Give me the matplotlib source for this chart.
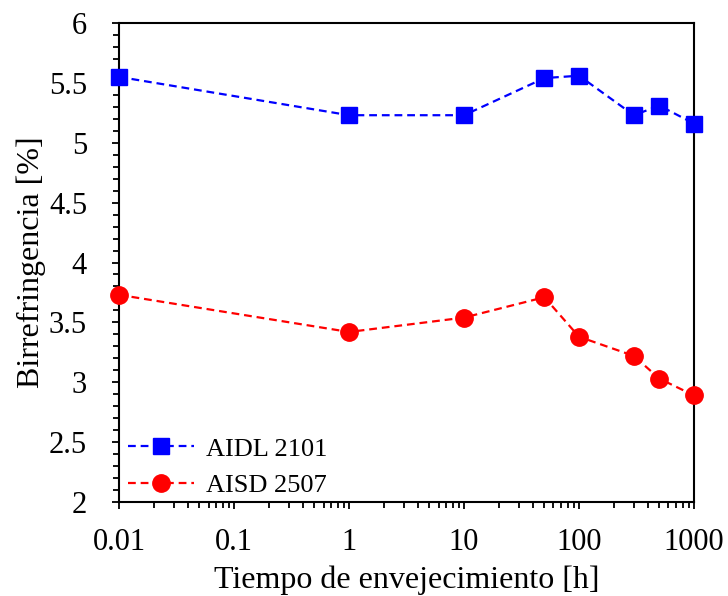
import matplotlib
matplotlib.use("Agg")
import matplotlib.pyplot as plt
from matplotlib.ticker import FixedLocator, MultipleLocator, LogLocator, NullFormatter

plt.rcParams['font.family'] = ['Liberation Serif', 'DejaVu Serif']
plt.rcParams['mathtext.fontset'] = 'stix'

time_h = [0.01, 1, 10, 50, 100, 300, 500, 1000]
aidl_2101 = [5.55, 5.23, 5.23, 5.54, 5.56, 5.23, 5.31, 5.16]
aisd_2507 = [3.73, 3.42, 3.54, 3.71, 3.38, 3.22, 3.03, 2.89]
x_ticks = [0.01, 0.1, 1, 10, 100, 1000]
x_tick_labels = ["0.01", "0.1", "1", "10", "100", "1000"]
y_ticks = [2, 2.5, 3, 3.5, 4, 4.5, 5, 5.5, 6]
y_tick_labels = ["2", "2.5", "3", "3.5", "4", "4.5", "5", "5.5", "6"]

fig = plt.figure(figsize=(7.28, 5.96), dpi=100)
ax = fig.add_axes([0.1635, 0.1577, 0.7898, 0.8037])

ax.plot(time_h, aidl_2101, color='#0000FF', linestyle=(0, (3.5, 2.2)), linewidth=1.6,
        marker='s', markersize=11.5, label='AIDL 2101', clip_on=False, zorder=3)
ax.plot(time_h, aisd_2507, color='#FF0000', linestyle=(0, (3.5, 2.2)), linewidth=1.6,
        marker='o', markersize=12.5, label='AISD 2507', clip_on=False, zorder=3)

ax.set_xscale('log')
ax.set_xlim(0.01, 1000)
ax.set_ylim(2, 6)
ax.xaxis.set_major_locator(FixedLocator(x_ticks))
ax.set_xticklabels(x_tick_labels)
ax.xaxis.set_minor_locator(LogLocator(base=10, subs=range(2, 10)))
ax.xaxis.set_minor_formatter(NullFormatter())
ax.yaxis.set_major_locator(FixedLocator(y_ticks))
ax.set_yticklabels(y_tick_labels)
ax.yaxis.set_minor_locator(MultipleLocator(0.1))

ax.tick_params(which='both', direction='out', top=False, right=False, labelsize=22, width=1.3)
ax.tick_params(which='major', length=5)
ax.tick_params(which='minor', length=4)
ax.tick_params(axis='y', which='major', pad=18)
ax.tick_params(axis='x', which='major', pad=14)
for s in ax.spines.values():
    s.set_linewidth(1.5)

ax.set_xlabel('Tiempo de envejecimiento [h]', fontsize=23, labelpad=6)
ax.set_ylabel('Birrefringencia [%]', fontsize=23, labelpad=2)

ax.legend(loc='lower left', frameon=False, fontsize=19, handlelength=2.5,
          borderaxespad=0.0, labelspacing=0.5, handletextpad=0.45,
          bbox_to_anchor=(-0.003, -0.012))

fig.savefig('out.png', dpi=100)
